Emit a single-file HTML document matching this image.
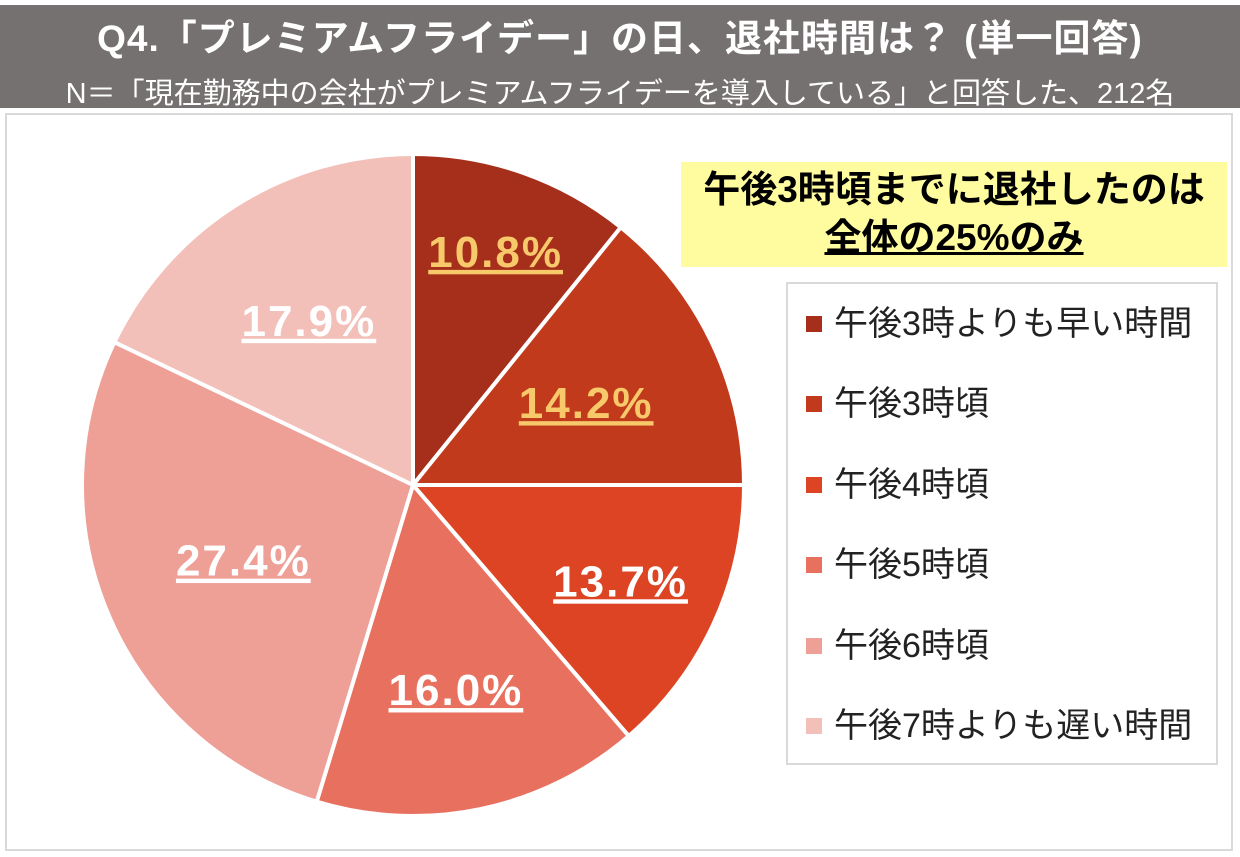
<!DOCTYPE html>
<html><head><meta charset="utf-8"><style>
body{margin:0;width:1240px;height:857px;background:#fff;font-family:"Liberation Sans","Noto Sans CJK JP",sans-serif;overflow:hidden;position:relative}
#hdr{position:absolute;left:0;top:5px;width:1240px;height:103px;background:#757170;color:#fff;text-align:center}
#t1{position:absolute;top:3px;width:100%;font-size:37px;font-weight:bold;letter-spacing:1px;white-space:nowrap}
#t2{position:absolute;top:65px;width:100%;font-size:29px;white-space:nowrap}
#frame{position:absolute;left:5px;top:113px;width:1228px;height:738px;border:2px solid #d9d9d9;box-sizing:border-box}
#note{position:absolute;left:681px;top:162px;width:546px;height:105px;background:#fffb9f;text-align:center;font-size:37px;font-weight:bold;line-height:48px;padding-top:4px;box-sizing:border-box;white-space:nowrap}
#legend{position:absolute;left:786px;top:282px;width:432px;height:483px;border:2px solid #d9d9d9;box-sizing:border-box}
.li{position:absolute;left:18px;font-size:34px;color:#222;white-space:nowrap}
.li span{display:inline-block;width:16px;height:16px;margin-right:12px;vertical-align:middle;position:relative;top:-2px}
svg{position:absolute;left:0;top:0}
</style></head><body>
<div id="hdr">
<div id="t1">Q4.「プレミアムフライデー」の日、退社時間は？ (単一回答)</div>
<div id="t2">N＝「現在勤務中の会社がプレミアムフライデーを導入している」と回答した、212名</div>
</div>
<div id="frame"></div>
<svg id="pie" width="1240" height="857"></svg>
<div id="note">午後3時頃までに退社したのは<br><u>全体の25%のみ</u></div>
<div id="legend"></div>
<script>
const categories=["午後3時よりも早い時間","午後3時頃","午後4時頃","午後5時頃","午後6時頃","午後7時よりも遅い時間"];
const values=[10.8,14.2,13.7,16.0,27.4,17.9];
const labels=["10.8%","14.2%","13.7%","16.0%","27.4%","17.9%"];
const colors=["#a52f1a","#c03a1b","#dc4423","#e8705f","#ee9f96","#f2bfb9"];
const labelColors=["#f7c96b","#f7c96b","#fff","#fff","#fff","#fff"];
const labelRadius=[0.75,0.58,0.69,0.63,0.56,0.59];
const cx=413,cy=485,R=331;
const svg=document.getElementById('pie');const NS="http://www.w3.org/2000/svg";
const total=values.reduce((a,b)=>a+b,0);
function pt(a,r){return [cx+r*Math.sin(a),cy-r*Math.cos(a)];}
let acc=0;
values.forEach((v,i)=>{
 const a0=acc/total*2*Math.PI;acc+=v;const a1=acc/total*2*Math.PI;
 const p0=pt(a0,R),p1=pt(a1,R);
 const p=document.createElementNS(NS,'path');
 p.setAttribute('d',`M${cx},${cy}L${p0[0]},${p0[1]}A${R},${R} 0 ${a1-a0>Math.PI?1:0} 1 ${p1[0]},${p1[1]}Z`);
 p.setAttribute('fill',colors[i]);p.setAttribute('stroke','#fff');p.setAttribute('stroke-width','4');
 
 
 svg.appendChild(p);
});
acc=0;
values.forEach((v,i)=>{
 const am=(acc+v/2)/total*2*Math.PI;acc+=v;
 const q=pt(am,R*labelRadius[i]);
 const t=document.createElementNS(NS,'text');
 t.setAttribute('x',q[0]);t.setAttribute('y',q[1]+16);t.setAttribute('text-anchor','middle');
 t.setAttribute('font-size','44');t.setAttribute('font-weight','bold');t.setAttribute('fill',labelColors[i]);
 t.setAttribute('letter-spacing','2');
 t.setAttribute('text-decoration','underline');
 t.setAttribute('font-family','"Liberation Sans",sans-serif');
 t.textContent=labels[i];
 
 
 svg.appendChild(t);
});
const lg=document.getElementById('legend');
categories.forEach((c,i)=>{
 const d=document.createElement('div');d.className='li';d.style.top=(12+i*80.4)+'px';
 d.innerHTML=`<span style="background:${colors[i]}"></span>${c}`;
 
 
 lg.appendChild(d);
});
</script>
</body></html>
